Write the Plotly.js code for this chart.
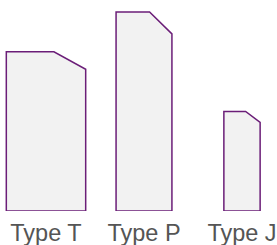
<!DOCTYPE html>
<html><head><meta charset="utf-8">
<script src="https://cdn.plot.ly/plotly-3.0.1.min.js"></script>
<style>html,body{margin:0;padding:0;background:#fff}</style>
</head><body><div id="chart" style="width:277px;height:245px"></div>
<script>
var categories = ["Type T", "Type P", "Type J"];
var values = [80, 100, 50];
var widths = [0.81, 0.57, 0.37];

var cutW = 0.4;   // fraction of bar width removed at top-right
var cutH = 0.11;  // fraction of bar height removed at top-right

var traces = categories.map(function (c, i) {
  var w = widths[i], v = values[i];
  var l = i - w / 2, r = i + w / 2;
  return {
    type: "scatter", mode: "lines", fill: "toself",
    x: [l, l, r - w * cutW, r, r, l],
    y: [0, v, v, v * (1 - cutH), 0, 0],
    fillcolor: "#f2f2f2",
    line: {color: "#6b1e78", width: 1.5},
    hoverinfo: "skip", showlegend: false
  };
});

var layout = {
  width: 277, height: 245,
  margin: {l: 0, r: 0, t: 0, b: 34},
  paper_bgcolor: "#fff", plot_bgcolor: "#fff",
  xaxis: {range: [-0.4694, 2.3571], tickvals: [0, 1, 2], ticktext: categories,
          showgrid: false, zeroline: false, showline: false, ticks: "",
          ticklabeloverflow: "allow", ticklabelstandoff: 5,
          tickfont: {family: "Liberation Sans, Arial, sans-serif", size: 23.5, color: "#555"}},
  yaxis: {range: [0, 106.03], visible: false, showgrid: false, zeroline: false},
  showlegend: false
};
Plotly.newPlot("chart", traces, layout, {displayModeBar: false, staticPlot: true});
</script></body></html>
